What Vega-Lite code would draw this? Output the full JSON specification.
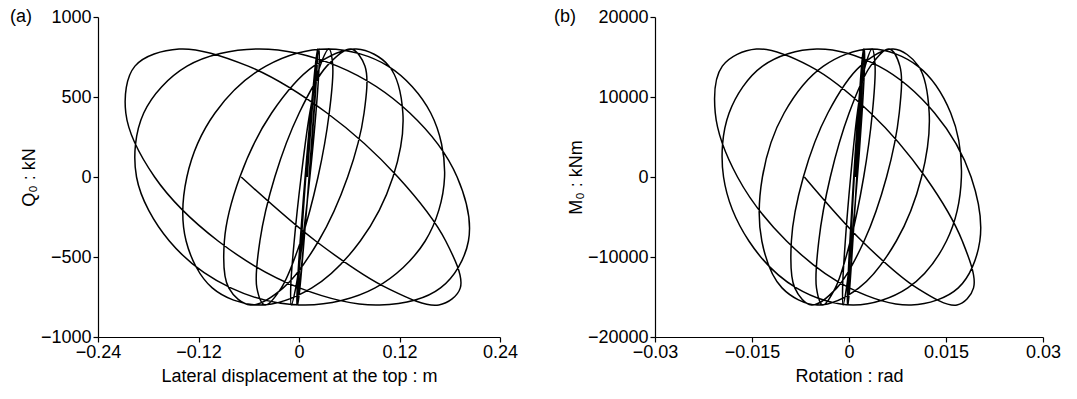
{
  "$schema": "https://vega.github.io/schema/vega-lite/v6.json",
  "padding": {"left": 10, "top": 8, "right": 5, "bottom": 5},
  "config": {
    "view": {"stroke": null},
    "font": "Liberation Sans",
    "axis": {
      "grid": false,
      "domainColor": "black",
      "domainWidth": 1.2,
      "tickColor": "black",
      "tickWidth": 1.2,
      "tickSize": 5,
      "labelColor": "black",
      "labelFont": "Liberation Sans",
      "labelFontSize": 18,
      "labelPadding": 2,
      "labelFlush": false,
      "labelOverlap": false,
      "titleColor": "black",
      "titleFont": "Liberation Sans",
      "titleFontSize": 18,
      "titleFontWeight": "normal",
      "format": ".10~g"
    },
    "axisX": {"titlePadding": 6, "labelPadding": 1},
    "axisY": {"titlePadding": 2},
    "title": {
      "font": "Liberation Sans",
      "fontSize": 18,
      "fontWeight": "normal",
      "color": "black",
      "anchor": "start",
      "frame": "group",
      "orient": "top",
      "baseline": "middle",
      "offset": 0
    }
  },
  "data": {
    "values": [
      {"s": 1, "d": 0.0098, "q": 0, "r": 0.00098, "m": 0},
      {"s": 2, "d": 0.0154, "q": 400, "r": 0.00154, "m": 8000},
      {"s": 3, "d": 0.0198, "q": 693, "r": 0.00198, "m": 13860},
      {"s": 4, "d": 0.0220, "q": 800, "r": 0.00220, "m": 16000},
      {"s": 5, "d": 0.0211, "q": 693, "r": 0.00211, "m": 13860},
      {"s": 6, "d": 0.0175, "q": 400, "r": 0.00175, "m": 8000},
      {"s": 7, "d": 0.0120, "q": 0, "r": 0.00120, "m": 0},
      {"s": 8, "d": 0.0060, "q": -400, "r": 0.00060, "m": -8000},
      {"s": 9, "d": 0.0011, "q": -693, "r": 0.00011, "m": -13860},
      {"s": 10, "d": -0.0014, "q": -800, "r": -0.00014, "m": -16000},
      {"s": 11, "d": -0.0008, "q": -693, "r": -0.00008, "m": -13860},
      {"s": 12, "d": 0.0027, "q": -400, "r": 0.00027, "m": -8000},
      {"s": 13, "d": 0.0081, "q": 0, "r": 0.00081, "m": 0},
      {"s": 14, "d": 0.0143, "q": 400, "r": 0.00143, "m": 8000},
      {"s": 15, "d": 0.0194, "q": 693, "r": 0.00194, "m": 13860},
      {"s": 16, "d": 0.0221, "q": 800, "r": 0.00221, "m": 16000},
      {"s": 17, "d": 0.0216, "q": 693, "r": 0.00216, "m": 13860},
      {"s": 18, "d": 0.0180, "q": 400, "r": 0.00180, "m": 8000},
      {"s": 19, "d": 0.0123, "q": 0, "r": 0.00123, "m": 0},
      {"s": 20, "d": 0.0058, "q": -400, "r": 0.00058, "m": -8000},
      {"s": 21, "d": 0.0004, "q": -693, "r": 0.00004, "m": -13860},
      {"s": 22, "d": -0.0026, "q": -800, "r": -0.00026, "m": -16000},
      {"s": 23, "d": -0.0021, "q": -693, "r": -0.00021, "m": -13860},
      {"s": 24, "d": 0.0014, "q": -400, "r": 0.00014, "m": -8000},
      {"s": 25, "d": 0.0073, "q": 0, "r": 0.00073, "m": 0},
      {"s": 26, "d": 0.0139, "q": 400, "r": 0.00139, "m": 8000},
      {"s": 27, "d": 0.0201, "q": 693, "r": 0.00201, "m": 13860},
      {"s": 28, "d": 0.0239, "q": 800, "r": 0.00239, "m": 16000},
      {"s": 29, "d": 0.0240, "q": 693, "r": 0.00240, "m": 13860},
      {"s": 30, "d": 0.0202, "q": 400, "r": 0.00202, "m": 8000},
      {"s": 31, "d": 0.0130, "q": 0, "r": 0.00130, "m": 0},
      {"s": 32, "d": 0.0042, "q": -400, "r": 0.00042, "m": -8000},
      {"s": 33, "d": -0.0039, "q": -693, "r": -0.00039, "m": -13860},
      {"s": 34, "d": -0.0092, "q": -800, "r": -0.00092, "m": -16000},
      {"s": 35, "d": -0.0099, "q": -693, "r": -0.00099, "m": -13860},
      {"s": 36, "d": -0.0057, "q": -400, "r": -0.00057, "m": -8000},
      {"s": 37, "d": 0.0025, "q": 0, "r": 0.00025, "m": 0},
      {"s": 38, "d": 0.0129, "q": 400, "r": 0.00129, "m": 8000},
      {"s": 39, "d": 0.0251, "q": 693, "r": 0.00251, "m": 13860},
      {"s": 40, "d": 0.0357, "q": 800, "r": 0.00357, "m": 16000},
      {"s": 41, "d": 0.0403, "q": 693, "r": 0.00403, "m": 13860},
      {"s": 42, "d": 0.0361, "q": 400, "r": 0.00361, "m": 8000},
      {"s": 43, "d": 0.0227, "q": 0, "r": 0.00227, "m": 0},
      {"s": 44, "d": 0.0021, "q": -400, "r": 0.00021, "m": -8000},
      {"s": 45, "d": -0.0211, "q": -693, "r": -0.00211, "m": -13860},
      {"s": 46, "d": -0.0405, "q": -800, "r": -0.00405, "m": -16000},
      {"s": 47, "d": -0.0503, "q": -693, "r": -0.00503, "m": -13860},
      {"s": 48, "d": -0.0467, "q": -400, "r": -0.00467, "m": -8000},
      {"s": 49, "d": -0.0289, "q": 0, "r": -0.00289, "m": 0},
      {"s": 50, "d": 0.0002, "q": 400, "r": 0.00002, "m": 8000},
      {"s": 51, "d": 0.0332, "q": 693, "r": 0.00332, "m": 13860},
      {"s": 52, "d": 0.0620, "q": 800, "r": 0.00620, "m": 16000},
      {"s": 53, "d": 0.0787, "q": 693, "r": 0.00787, "m": 13860},
      {"s": 54, "d": 0.0777, "q": 400, "r": 0.00777, "m": 8000},
      {"s": 55, "d": 0.0581, "q": 0, "r": 0.00581, "m": 0},
      {"s": 56, "d": 0.0234, "q": -400, "r": 0.00234, "m": -8000},
      {"s": 57, "d": -0.0188, "q": -693, "r": -0.00188, "m": -13860},
      {"s": 58, "d": -0.0579, "q": -800, "r": -0.00579, "m": -16000},
      {"s": 59, "d": -0.0839, "q": -693, "r": -0.00839, "m": -13860},
      {"s": 60, "d": -0.0891, "q": -400, "r": -0.00891, "m": -8000},
      {"s": 61, "d": -0.0706, "q": 0, "r": -0.00706, "m": 0},
      {"s": 62, "d": -0.0327, "q": 400, "r": -0.00327, "m": 8000},
      {"s": 63, "d": 0.0175, "q": 693, "r": 0.00175, "m": 13860},
      {"s": 64, "d": 0.0685, "q": 800, "r": 0.00685, "m": 16000},
      {"s": 65, "d": 0.1075, "q": 693, "r": 0.01075, "m": 13860},
      {"s": 66, "d": 0.1240, "q": 400, "r": 0.01240, "m": 8000},
      {"s": 67, "d": 0.1122, "q": 0, "r": 0.01122, "m": 0},
      {"s": 68, "d": 0.0732, "q": -400, "r": 0.00732, "m": -8000},
      {"s": 69, "d": 0.0154, "q": -693, "r": 0.00154, "m": -13860},
      {"s": 70, "d": -0.0489, "q": -800, "r": -0.00489, "m": -16000},
      {"s": 71, "d": -0.1036, "q": -693, "r": -0.01036, "m": -13860},
      {"s": 72, "d": -0.1348, "q": -400, "r": -0.01348, "m": -8000},
      {"s": 73, "d": -0.1339, "q": 0, "r": -0.01339, "m": 0},
      {"s": 74, "d": -0.1003, "q": 400, "r": -0.01003, "m": 8000},
      {"s": 75, "d": -0.0395, "q": 693, "r": -0.00395, "m": 13860},
      {"s": 76, "d": 0.0350, "q": 800, "r": 0.00350, "m": 16000},
      {"s": 77, "d": 0.1063, "q": 693, "r": 0.01063, "m": 13860},
      {"s": 78, "d": 0.1573, "q": 400, "r": 0.01573, "m": 8000},
      {"s": 79, "d": 0.1738, "q": 0, "r": 0.01738, "m": 0},
      {"s": 80, "d": 0.1507, "q": -400, "r": 0.01507, "m": -8000},
      {"s": 81, "d": 0.0909, "q": -693, "r": 0.00909, "m": -13860},
      {"s": 82, "d": 0.0073, "q": -800, "r": 0.00073, "m": -16000},
      {"s": 83, "d": -0.0815, "q": -693, "r": -0.00815, "m": -13860},
      {"s": 84, "d": -0.1548, "q": -400, "r": -0.01548, "m": -8000},
      {"s": 85, "d": -0.1940, "q": 0, "r": -0.01940, "m": 0},
      {"s": 86, "d": -0.1854, "q": 400, "r": -0.01854, "m": 8000},
      {"s": 87, "d": -0.1337, "q": 693, "r": -0.01337, "m": 13860},
      {"s": 88, "d": -0.0501, "q": 800, "r": -0.00501, "m": 16000},
      {"s": 89, "d": 0.0460, "q": 693, "r": 0.00460, "m": 13860},
      {"s": 90, "d": 0.1323, "q": 400, "r": 0.01323, "m": 8000},
      {"s": 91, "d": 0.1888, "q": 0, "r": 0.01888, "m": 0},
      {"s": 92, "d": 0.2023, "q": -400, "r": 0.02023, "m": -8000},
      {"s": 93, "d": 0.1690, "q": -693, "r": 0.01690, "m": -13860},
      {"s": 94, "d": 0.0962, "q": -800, "r": 0.00962, "m": -16000},
      {"s": 95, "d": 0.0005, "q": -693, "r": 0.00005, "m": -13860},
      {"s": 96, "d": -0.0966, "q": -400, "r": -0.00966, "m": -8000},
      {"s": 97, "d": -0.1724, "q": 0, "r": -0.01724, "m": 0},
      {"s": 98, "d": -0.2068, "q": 400, "r": -0.02068, "m": 8000},
      {"s": 99, "d": -0.1959, "q": 693, "r": -0.01959, "m": 13860},
      {"s": 100, "d": -0.1432, "q": 800, "r": -0.01432, "m": 16000},
      {"s": 101, "d": -0.0607, "q": 693, "r": -0.00607, "m": 13860},
      {"s": 102, "d": 0.0334, "q": 400, "r": 0.00334, "m": 8000},
      {"s": 103, "d": 0.1181, "q": 0, "r": 0.01181, "m": 0},
      {"s": 104, "d": 0.1752, "q": -400, "r": 0.01752, "m": -8000},
      {"s": 105, "d": 0.1926, "q": -693, "r": 0.01926, "m": -13860},
      {"s": 106, "d": 0.1670, "q": -800, "r": 0.01670, "m": -16000},
      {"s": 107, "d": 0.1048, "q": -693, "r": 0.01048, "m": -13860},
      {"s": 108, "d": 0.0199, "q": -400, "r": 0.00199, "m": -8000},
      {"s": 109, "d": -0.0690, "q": 0, "r": -0.00690, "m": 0}
    ]
  },
  "spacing": 155,
  "bounds": "flush",
  "hconcat": [
    {
      "width": 402,
      "height": 320,
      "title": {"text": "(a)", "dx": -88, "dy": 22},
      "mark": {"type": "line", "interpolate": "catmull-rom", "color": "black", "strokeWidth": 1.5},
      "encoding": {
        "x": {
          "field": "d", "type": "quantitative",
          "scale": {"domain": [-0.24, 0.24], "nice": false, "zero": false},
          "axis": {"values": [-0.24, -0.12, 0, 0.12, 0.24], "title": "Lateral displacement at the top : m"}
        },
        "y": {
          "field": "q", "type": "quantitative",
          "scale": {"domain": [-1000, 1000], "nice": false, "zero": false},
          "axis": {"values": [-1000, -500, 0, 500, 1000], "title": "Q₀ : kN"}
        },
        "order": {"field": "s", "type": "quantitative"}
      }
    },
    {
      "width": 388,
      "height": 320,
      "title": {"text": "(b)", "dx": -101, "dy": 22},
      "mark": {"type": "line", "interpolate": "catmull-rom", "color": "black", "strokeWidth": 1.5},
      "encoding": {
        "x": {
          "field": "r", "type": "quantitative",
          "scale": {"domain": [-0.03, 0.03], "nice": false, "zero": false},
          "axis": {"values": [-0.03, -0.015, 0, 0.015, 0.03], "title": "Rotation : rad"}
        },
        "y": {
          "field": "m", "type": "quantitative",
          "scale": {"domain": [-20000, 20000], "nice": false, "zero": false},
          "axis": {"values": [-20000, -10000, 0, 10000, 20000], "title": "M₀ : kNm"}
        },
        "order": {"field": "s", "type": "quantitative"}
      }
    }
  ]
}
